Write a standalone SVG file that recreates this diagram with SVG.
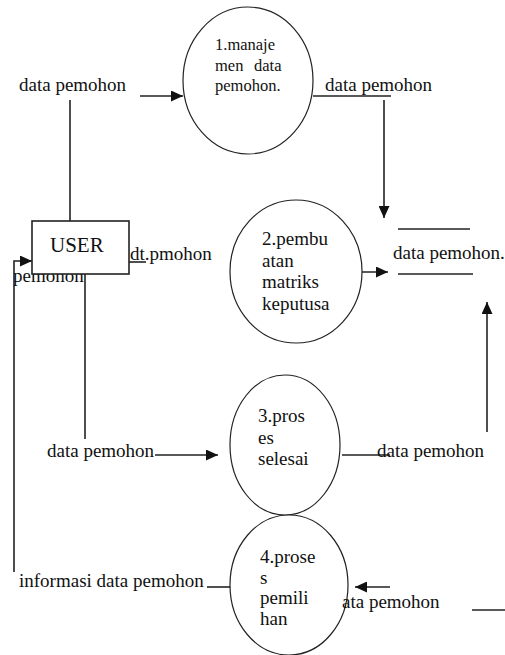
<svg xmlns="http://www.w3.org/2000/svg" width="505" height="655" viewBox="0 0 505 655">
<style>
text{font-family:'Liberation Serif','Times New Roman',Tinos,'DejaVu Serif',serif;font-size:19px;fill:#111}
.s{font-size:16.5px}
.c{fill:#fff;stroke:#222;stroke-width:1.2}
.l{stroke:#222;stroke-width:1.6;fill:none}
</style>
<defs>
<marker id="ah" markerUnits="userSpaceOnUse" markerWidth="13" markerHeight="11" refX="12" refY="5.5" orient="auto">
<path d="M0,0 L12,5.5 L0,11 z" fill="#111"/>
</marker>
</defs>
<rect width="505" height="655" fill="#fff"/>
<g id="labels-under" font-family="Liberation Serif, serif">
<text x="13" y="282">pemohon</text>
</g>
<g id="connectors">
<line class="l" x1="140" y1="96" x2="183" y2="96" marker-end="url(#ah)"/>
<line class="l" x1="70" y1="100" x2="70" y2="221"/>
<line class="l" x1="313" y1="96" x2="391" y2="96"/>
<line class="l" x1="384" y1="100" x2="384" y2="218" marker-end="url(#ah)"/>
<line class="l" x1="129" y1="262" x2="146" y2="262"/>
<line class="l" x1="342" y1="272" x2="388" y2="272" marker-end="url(#ah)"/>
<line class="l" x1="85" y1="274" x2="85" y2="439"/>
<line class="l" x1="155" y1="455" x2="218" y2="455" marker-end="url(#ah)"/>
<line class="l" x1="342" y1="455" x2="390" y2="455"/>
<line class="l" x1="487" y1="432" x2="487" y2="302" marker-end="url(#ah)"/>
<polyline class="l" points="14,572 14,261 32,261" marker-end="url(#ah)"/>
<line class="l" x1="207" y1="587" x2="232" y2="587"/>
<line class="l" x1="390" y1="587" x2="355" y2="587" marker-end="url(#ah)"/>
<line class="l" x1="472" y1="610" x2="505" y2="610"/>
</g>
<g id="user">
<rect x="32" y="221" width="97" height="53" fill="#fff" stroke="#222" stroke-width="1.6"/>
<text x="50" y="252" style="font-size:21px">USER</text>
</g>
<g id="p1">
<ellipse class="c" cx="248" cy="80.5" rx="65" ry="73.5"/>
<text class="s" x="215" y="50">1.manaje</text>
<text class="s" x="215" y="71">men</text>
<text class="s" x="254" y="71">data</text>
<text class="s" x="215" y="91">pemohon.</text>
</g>
<g id="p2">
<ellipse class="c" cx="296" cy="271.5" rx="66" ry="71.5"/>
<text x="262" y="245">2.pembu</text>
<text x="262" y="267">atan</text>
<text x="262" y="288">matriks</text>
<text x="262" y="310">keputusa</text>
</g>
<g id="p3">
<ellipse class="c" cx="285" cy="445" rx="55" ry="70"/>
<text x="258" y="422">3.pros</text>
<text x="258" y="443.5">es</text>
<text x="258" y="465">selesai</text>
</g>
<g id="p4">
<ellipse class="c" cx="289" cy="585" rx="59" ry="70"/>
<text x="260" y="563">4.prose</text>
<text x="260" y="584">s</text>
<text x="260" y="604">pemili</text>
<text x="260" y="625">han</text>
</g>
<g id="store">
<line class="l" x1="398" y1="229" x2="470" y2="229"/>
<line class="l" x1="398" y1="274" x2="473" y2="274"/>
<text x="393" y="259">data pemohon.</text>
</g>
<g id="labels">
<text x="19" y="91">data pemohon</text>
<text x="325" y="91">data pemohon</text>
<text x="130" y="260">dt.pmohon</text>
<text x="47" y="457">data pemohon</text>
<text x="377" y="457">data pemohon</text>
<text x="19" y="587">informasi data pemohon</text>
<text x="342" y="608">ata pemohon</text>
</g>
</svg>
